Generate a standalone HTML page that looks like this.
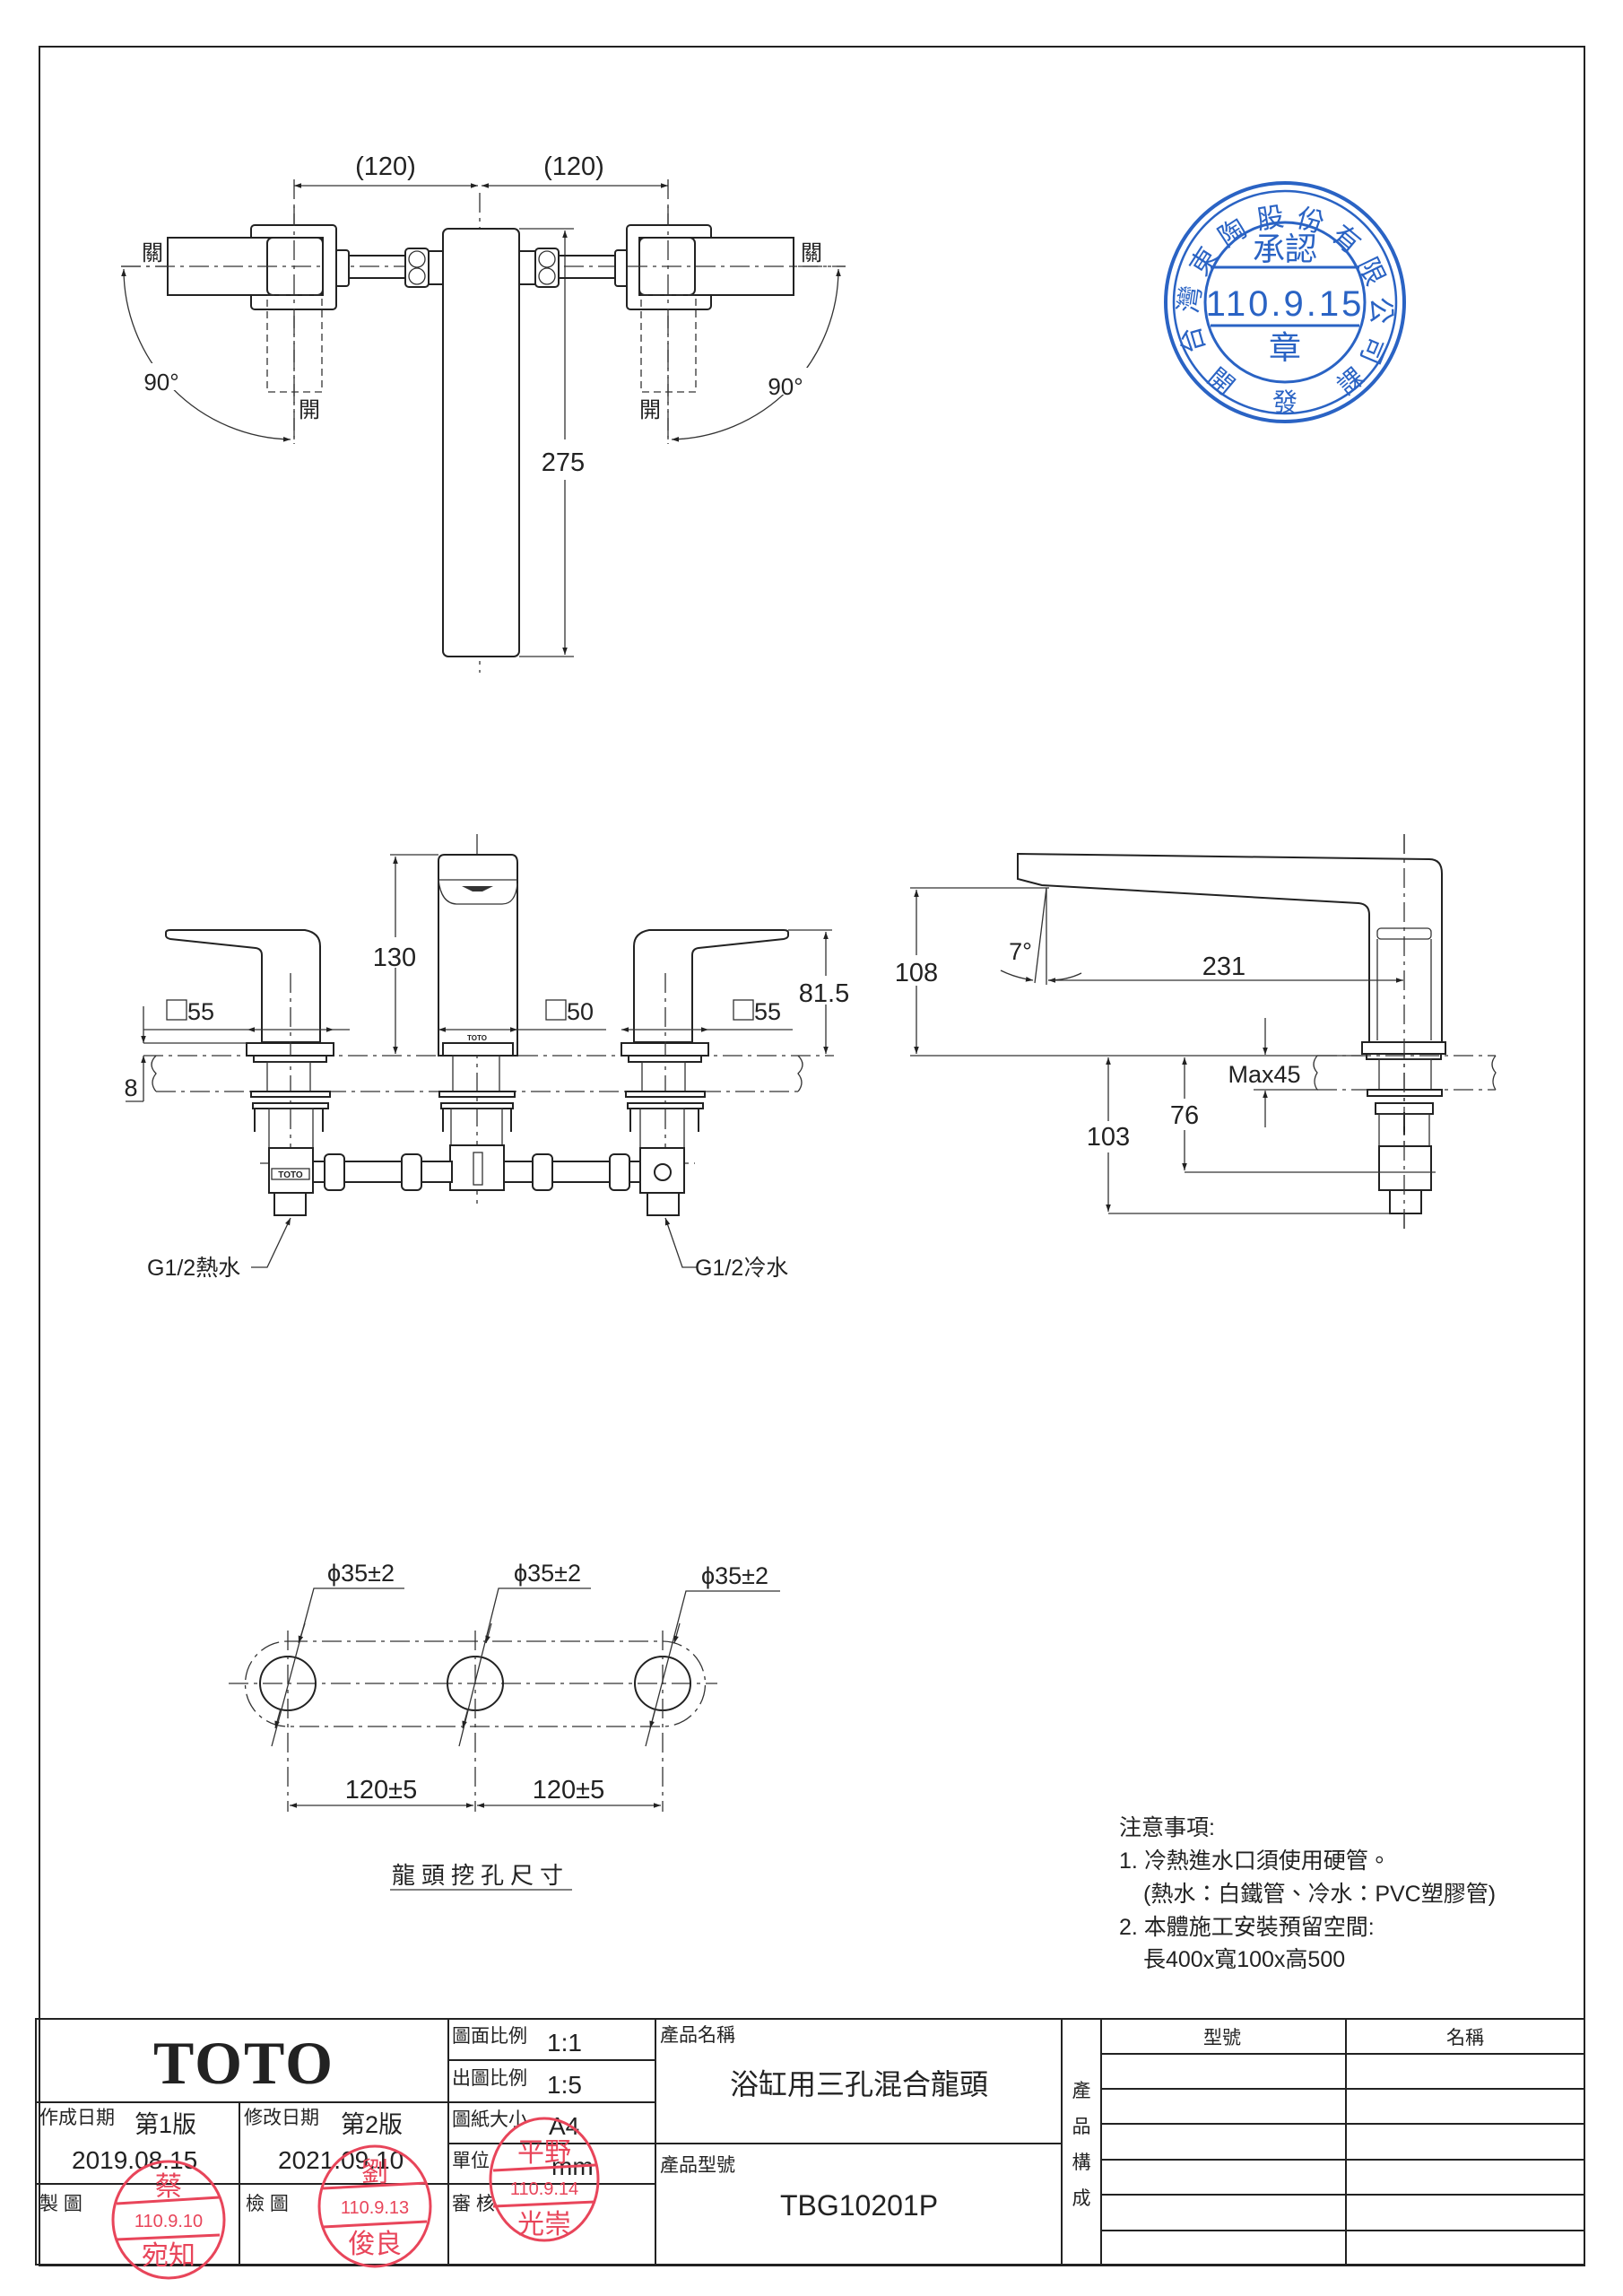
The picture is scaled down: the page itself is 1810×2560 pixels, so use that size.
<!DOCTYPE html>
<html><head><meta charset="utf-8"><style>
html,body{margin:0;padding:0;background:#fff}
svg{display:block}
text{font-family:"Liberation Sans","Noto Sans CJK TC",sans-serif;fill:#222}
.l{stroke:#222;stroke-width:2;fill:none}
.t{stroke:#333;stroke-width:1.3;fill:none}
.d{stroke:#333;stroke-width:1.3;fill:none;stroke-dasharray:22 6 4 6}
.dd{stroke:#333;stroke-width:1.3;fill:none;stroke-dasharray:8 5}
.w{fill:#fff;stroke:#222;stroke-width:2}
.dim{font-size:29px}
.b{stroke:#2a63c4;fill:none}
.r{stroke:#e8455a;fill:none}
</style></head><body>
<svg width="1810" height="2560" viewBox="0 0 1810 2560" xmlns="http://www.w3.org/2000/svg">
<defs>
<marker id="a" viewBox="0 0 10 10" refX="10" refY="5" markerWidth="22" markerHeight="8" markerUnits="userSpaceOnUse" orient="auto-start-reverse"><path d="M0,1.5 L10,5 L0,8.5 Z" fill="#222"/></marker>
</defs>
<!-- border -->
<rect x="44" y="52" width="1723" height="2474" class="l"/>

<!-- ===== TOP VIEW ===== -->
<line x1="135" y1="297" x2="943" y2="297" class="d"/>
<line x1="535" y1="215" x2="535" y2="750" class="d"/>
<line x1="328" y1="200" x2="328" y2="495" class="d"/>
<line x1="745" y1="200" x2="745" y2="495" class="d"/>
<line x1="328" y1="207" x2="533" y2="207" class="t" marker-start="url(#a)" marker-end="url(#a)"/>
<line x1="537" y1="207" x2="745" y2="207" class="t" marker-start="url(#a)" marker-end="url(#a)"/>
<text x="430" y="195" class="dim" text-anchor="middle">(120)</text>
<text x="640" y="195" class="dim" text-anchor="middle">(120)</text>
<!-- spout -->
<rect x="494" y="255" width="85" height="477" rx="6" class="w"/>
<line x1="579" y1="255" x2="640" y2="255" class="t"/>
<line x1="579" y1="732" x2="640" y2="732" class="t"/>
<line x1="630" y1="257" x2="630" y2="490" class="t" marker-start="url(#a)"/>
<line x1="630" y1="535" x2="630" y2="730" class="t" marker-end="url(#a)"/>
<text x="628" y="525" class="dim" text-anchor="middle">275</text>
<!-- pipes -->
<line x1="389" y1="285" x2="452" y2="285" class="l"/><line x1="389" y1="310" x2="452" y2="310" class="l"/>
<line x1="623" y1="285" x2="686" y2="285" class="l"/><line x1="623" y1="310" x2="686" y2="310" class="l"/>
<rect x="452" y="277" width="26" height="43" rx="4" class="w"/><rect x="478" y="280" width="16" height="37" class="w"/>
<rect x="597" y="277" width="26" height="43" rx="4" class="w"/><rect x="579" y="280" width="18" height="37" class="w"/>
<rect x="374" y="279" width="15" height="40" rx="3" class="w"/><rect x="686" y="279" width="15" height="40" rx="3" class="w"/>
<circle cx="465" cy="289" r="9" class="t"/><circle cx="465" cy="308" r="9" class="t"/>
<circle cx="610" cy="289" r="9" class="t"/><circle cx="610" cy="308" r="9" class="t"/>
<!-- left handle -->
<rect x="280" y="251" width="95" height="94" rx="4" class="w"/>
<rect x="187" y="265" width="173" height="64" class="w"/>
<rect x="298" y="265" width="62" height="64" rx="6" class="w"/>
<rect x="298" y="329" width="61" height="108" class="dd"/>
<line x1="135" y1="297" x2="360" y2="297" class="d"/>
<!-- right handle -->
<rect x="699" y="251" width="94" height="94" rx="4" class="w"/>
<rect x="713" y="265" width="172" height="64" class="w"/>
<rect x="713" y="265" width="62" height="64" rx="6" class="w"/>
<rect x="715" y="329" width="61" height="108" class="dd"/>
<line x1="700" y1="297" x2="943" y2="297" class="d"/>
<line x1="328" y1="230" x2="328" y2="495" class="d"/>
<line x1="745" y1="230" x2="745" y2="495" class="d"/>
<text x="170" y="290" font-size="24" text-anchor="middle">關</text>
<text x="905" y="290" font-size="24" text-anchor="middle">關</text>
<text x="345" y="465" font-size="24" text-anchor="middle">開</text>
<text x="725" y="465" font-size="24" text-anchor="middle">開</text>
<path d="M324,490 A190,190 0 0 1 138,300" class="t" marker-start="url(#a)" marker-end="url(#a)"/>
<path d="M749,490 A190,190 0 0 0 935,300" class="t" marker-start="url(#a)" marker-end="url(#a)"/>
<rect x="160" y="405" width="46" height="30" fill="#fff"/>
<rect x="862" y="410" width="46" height="30" fill="#fff"/>
<text x="180" y="435" font-size="26" text-anchor="middle">90°</text>
<text x="876" y="440" font-size="26" text-anchor="middle">90°</text>

<!-- ===== BLUE STAMP ===== -->
<g class="b">
<circle cx="1433" cy="337" r="133" stroke-width="4"/>
<circle cx="1433" cy="337" r="124" stroke-width="2.5"/>
<circle cx="1433" cy="337" r="89" stroke-width="3"/>
<line x1="1350" y1="298" x2="1516" y2="298" stroke-width="3"/>
<line x1="1350" y1="363" x2="1516" y2="363" stroke-width="3"/>
</g>
<g font-family="'Noto Serif CJK SC','Noto Sans CJK TC',serif">
<text x="1433" y="290" font-size="36" text-anchor="middle" style="fill:#2a63c4">承認</text>
<text x="1433" y="352" font-size="40" text-anchor="middle" style="fill:#2a63c4;font-family:'Liberation Sans Narrow','Liberation Sans',sans-serif" letter-spacing="3">110.9.15</text>
<text x="1433" y="400" font-size="36" text-anchor="middle" style="fill:#2a63c4">章</text>
<text x="1433" y="458" font-size="28" text-anchor="middle" style="fill:#2a63c4">發</text>
<text x="1362" y="435" font-size="28" text-anchor="middle" style="fill:#2a63c4" transform="rotate(40 1362 425)">開</text>
<text x="1506" y="435" font-size="28" text-anchor="middle" style="fill:#2a63c4" transform="rotate(-40 1506 425)">課</text>
<path id="arc" d="M1345,390 A97,97 0 1 1 1521,390" fill="none"/>
<text font-size="30" style="fill:#2a63c4"><textPath href="#arc" textLength="400" lengthAdjust="spacing">台灣東陶股份有限公司</textPath></text>
</g>

<!-- ===== FRONT VIEW ===== -->
<line x1="160" y1="1177" x2="930" y2="1177" class="d"/>
<line x1="174" y1="1217" x2="890" y2="1217" class="d"/>
<path d="M174,1177 q-10,10 0,20 q-8,10 0,20" class="t"/>
<path d="M890,1177 q10,10 0,20 q8,10 0,20" class="t"/>
<line x1="324" y1="1085" x2="324" y2="1345" class="d"/>
<line x1="532" y1="930" x2="532" y2="1345" class="d"/>
<line x1="742" y1="1085" x2="742" y2="1345" class="d"/>
<line x1="290" y1="1297" x2="775" y2="1297" class="d"/>
<!-- spout -->
<path d="M489,960 Q489,953 496,953 L570,953 Q577,953 577,962 L577,1177 L489,1177 Z" class="w"/>
<path d="M489,981 L577,981 M489,981 Q492,1008 510,1008 L560,1008 Q575,1008 577,985" class="t"/>
<path d="M515,988 L550,988 L538,994 L527,994 Z" fill="#333"/>
<text x="532" y="1160" font-size="8" text-anchor="middle" font-weight="bold">TOTO</text>
<rect x="494" y="1163" width="78" height="14" class="w"/>
<line x1="435" y1="953" x2="489" y2="953" class="t"/>
<line x1="441" y1="955" x2="441" y2="1175" class="t" marker-start="url(#a)" marker-end="url(#a)"/>
<rect x="422" y="1045" width="38" height="34" fill="#fff"/>
<text x="440" y="1077" class="dim" text-anchor="middle">130</text>
<!-- left handle -->
<path d="M185,1040 Q185,1037 190,1037 L340,1037 Q357,1040 357,1055 L357,1162 L292,1162 L292,1065 Q292,1058 285,1057 L190,1047 Q185,1046 185,1043 Z" class="w"/>
<rect x="275" y="1163" width="97" height="14" class="w"/>
<rect x="283" y="1177" width="81" height="7" class="w"/>
<!-- right handle -->
<path d="M879,1040 Q879,1037 874,1037 L724,1037 Q707,1040 707,1055 L707,1162 L772,1162 L772,1065 Q772,1058 779,1057 L874,1047 Q879,1046 879,1043 Z" class="w"/>
<rect x="693" y="1163" width="97" height="14" class="w"/>
<rect x="701" y="1177" width="81" height="7" class="w"/>
<line x1="324" y1="1085" x2="324" y2="1177" class="d"/>
<line x1="742" y1="1085" x2="742" y2="1177" class="d"/>
<!-- underside parts -->
<g>
<rect x="298" y="1184" width="48" height="33" class="t"/>
<rect x="505" y="1177" width="52" height="40" class="t"/>
<rect x="716" y="1184" width="48" height="33" class="t"/>
<rect x="280" y="1217" width="88" height="6" class="w"/><rect x="490" y="1217" width="84" height="6" class="w"/><rect x="698" y="1217" width="88" height="6" class="w"/>
<rect x="282" y="1230" width="84" height="6" class="w"/><rect x="492" y="1230" width="80" height="6" class="w"/><rect x="700" y="1230" width="84" height="6" class="w"/>
<path d="M284,1236v26M360,1236v26M494,1236v26M570,1236v26M703,1236v26M779,1236v26" class="l" stroke-width="4"/>
<rect x="300" y="1236" width="49" height="44" class="t"/>
<rect x="503" y="1236" width="57" height="41" class="t"/>
<rect x="714" y="1236" width="49" height="44" class="t"/>
<rect x="300" y="1280" width="49" height="50" class="w"/>
<rect x="714" y="1280" width="49" height="50" class="w"/>
<rect x="502" y="1277" width="60" height="50" class="w"/>
<rect x="349" y="1295" width="155" height="23" class="w"/>
<rect x="562" y="1295" width="152" height="23" class="w"/>
<rect x="362" y="1287" width="22" height="40" rx="5" class="w"/>
<rect x="448" y="1287" width="22" height="40" rx="5" class="w"/>
<rect x="594" y="1287" width="22" height="40" rx="5" class="w"/>
<rect x="680" y="1287" width="22" height="40" rx="5" class="w"/>
<rect x="306" y="1330" width="35" height="25" class="w"/>
<rect x="722" y="1330" width="35" height="25" class="w"/>
<rect x="303" y="1303" width="42" height="12" class="t"/>
<text x="324" y="1313" font-size="10" text-anchor="middle" font-weight="bold">TOTO</text>
<circle cx="739" cy="1307" r="9" class="l"/>
<rect x="528" y="1285" width="10" height="36" class="t"/>
</g>
<!-- widths -->
<line x1="160" y1="1148" x2="276" y2="1148" class="t"/>
<line x1="276" y1="1148" x2="372" y2="1148" class="t" marker-start="url(#a)" marker-end="url(#a)"/>
<line x1="372" y1="1148" x2="390" y2="1148" class="t"/>
<line x1="489" y1="1148" x2="577" y2="1148" class="t" marker-start="url(#a)" marker-end="url(#a)"/>
<line x1="577" y1="1148" x2="676" y2="1148" class="t"/>
<line x1="693" y1="1148" x2="790" y2="1148" class="t" marker-start="url(#a)" marker-end="url(#a)"/>
<line x1="790" y1="1148" x2="884" y2="1148" class="t"/>
<rect x="186" y="1115" width="22" height="22" class="t"/><text x="209" y="1137" font-size="27">55</text>
<rect x="609" y="1115" width="22" height="22" class="t"/><text x="632" y="1137" font-size="27">50</text>
<rect x="818" y="1115" width="22" height="22" class="t"/><text x="841" y="1137" font-size="27">55</text>
<!-- 8 -->
<line x1="160" y1="1163" x2="275" y2="1163" class="t"/>
<line x1="160" y1="1122" x2="160" y2="1163" class="t" marker-end="url(#a)"/>
<line x1="160" y1="1228" x2="160" y2="1177" class="t" marker-end="url(#a)"/>
<line x1="140" y1="1228" x2="160" y2="1228" class="t"/>
<text x="146" y="1222" font-size="27" text-anchor="middle">8</text>
<!-- 81.5 -->
<line x1="879" y1="1037" x2="928" y2="1037" class="t"/>
<line x1="921" y1="1039" x2="921" y2="1175" class="t" marker-start="url(#a)" marker-end="url(#a)"/>
<rect x="898" y="1088" width="46" height="32" fill="#fff"/>
<text x="919" y="1117" class="dim" text-anchor="middle">81.5</text>
<!-- G1/2 -->
<polyline points="280,1413 298,1413 324,1358" class="t" marker-end="url(#a)"/>
<text x="164" y="1422" font-size="25">G1/2熱水</text>
<polyline points="777,1413 761,1413 742,1358" class="t" marker-end="url(#a)"/>
<text x="775" y="1422" font-size="25">G1/2冷水</text>

<!-- ===== SIDE VIEW ===== -->
<line x1="1566" y1="930" x2="1566" y2="1370" class="d"/>
<path d="M1135,952 L1594,958 Q1608,958 1608,974 L1608,1162 L1527,1162 L1527,1020 Q1527,1008 1515,1007 L1162,987 L1135,980 Z" class="w"/>
<rect x="1536" y="1035" width="60" height="12" rx="4" class="t"/>
<line x1="1536" y1="1047" x2="1536" y2="1160" class="t"/><line x1="1596" y1="1047" x2="1596" y2="1160" class="t"/>
<rect x="1519" y="1162" width="93" height="13" class="w"/>
<rect x="1524" y="1175" width="83" height="6" class="w"/>
<line x1="1469" y1="1177" x2="1668" y2="1177" class="d"/>
<line x1="1469" y1="1215" x2="1668" y2="1215" class="d"/>
<path d="M1469,1177 q-8,10 0,19 q-6,10 0,19" class="t"/>
<path d="M1668,1177 q-8,10 0,19 q-6,10 0,19" class="t"/>
<rect x="1538" y="1181" width="58" height="34" class="t"/>
<rect x="1525" y="1215" width="83" height="7" class="w"/>
<rect x="1534" y="1230" width="64" height="12" class="w"/>
<rect x="1538" y="1242" width="56" height="40" class="t"/>
<rect x="1538" y="1278" width="58" height="49" class="w"/>
<rect x="1550" y="1327" width="35" height="26" class="w"/>
<line x1="1566" y1="1240" x2="1566" y2="1265" class="l" stroke-width="4"/>
<line x1="1566" y1="930" x2="1566" y2="1370" class="d"/>
<!-- 108 -->
<line x1="1015" y1="990" x2="1170" y2="990" class="t"/>
<line x1="1015" y1="1177" x2="1520" y2="1177" class="t"/>
<line x1="1022" y1="992" x2="1022" y2="1175" class="t" marker-start="url(#a)" marker-end="url(#a)"/>
<rect x="1000" y="1065" width="44" height="34" fill="#fff"/>
<text x="1022" y="1094" class="dim" text-anchor="middle">108</text>
<!-- 7 deg -->
<line x1="1167" y1="990" x2="1167" y2="1098" class="t"/>
<line x1="1167" y1="990" x2="1154" y2="1096" class="t"/>
<path d="M1116,1082 Q1132,1090 1152,1093" class="t" marker-end="url(#a)"/>
<path d="M1206,1085 Q1190,1093 1169,1093" class="t" marker-end="url(#a)"/>
<text x="1138" y="1070" font-size="27" text-anchor="middle">7°</text>
<line x1="1169" y1="1093" x2="1565" y2="1093" class="t" marker-end="url(#a)"/>
<text x="1365" y="1087" class="dim" text-anchor="middle">231</text>
<!-- Max45 -->
<line x1="1411" y1="1135" x2="1411" y2="1176" class="t" marker-end="url(#a)"/>
<line x1="1411" y1="1257" x2="1411" y2="1216" class="t" marker-end="url(#a)"/>
<line x1="1398" y1="1215" x2="1470" y2="1215" class="t"/>
<text x="1410" y="1207" font-size="27" text-anchor="middle">Max45</text>
<!-- 76 -->
<line x1="1321" y1="1307" x2="1601" y2="1307" class="t"/>
<line x1="1321" y1="1179" x2="1321" y2="1225" class="t" marker-start="url(#a)"/>
<line x1="1321" y1="1260" x2="1321" y2="1305" class="t" marker-end="url(#a)"/>
<text x="1321" y="1253" class="dim" text-anchor="middle">76</text>
<!-- 103 -->
<line x1="1236" y1="1353" x2="1550" y2="1353" class="t"/>
<line x1="1236" y1="1179" x2="1236" y2="1250" class="t" marker-start="url(#a)"/>
<line x1="1236" y1="1285" x2="1236" y2="1351" class="t" marker-end="url(#a)"/>
<text x="1236" y="1277" class="dim" text-anchor="middle">103</text>

<!-- ===== HOLE LAYOUT ===== -->
<path d="M321,1830 L739,1830 A47.5,47.5 0 0 1 739,1925 L321,1925 A47.5,47.5 0 0 1 321,1830 Z" class="d"/>
<line x1="255" y1="1877" x2="800" y2="1877" class="d"/>
<ellipse cx="321" cy="1877" rx="31" ry="30" class="l"/>
<ellipse cx="530" cy="1877" rx="31" ry="30" class="l"/>
<ellipse cx="739" cy="1877" rx="31" ry="30" class="l"/>
<line x1="321" y1="1818" x2="321" y2="2020" class="d"/>
<line x1="530" y1="1818" x2="530" y2="2020" class="d"/>
<line x1="739" y1="1818" x2="739" y2="2020" class="d"/>
<line x1="323" y1="2013" x2="528" y2="2013" class="t" marker-start="url(#a)" marker-end="url(#a)"/>
<line x1="532" y1="2013" x2="737" y2="2013" class="t" marker-start="url(#a)" marker-end="url(#a)"/>
<text x="425" y="2005" class="dim" text-anchor="middle">120±5</text>
<text x="634" y="2005" class="dim" text-anchor="middle">120±5</text>
<g>
<polyline points="451,1771 350,1771 303,1947" class="t"/>
<line x1="340" y1="1810" x2="333" y2="1832" class="t" marker-end="url(#a)"/>
<line x1="313" y1="1905" x2="307" y2="1927" class="t" marker-end="url(#a)"/>
<polyline points="659,1771 556,1771 512,1947" class="t"/>
<line x1="548" y1="1810" x2="542" y2="1832" class="t" marker-end="url(#a)"/>
<line x1="522" y1="1905" x2="516" y2="1927" class="t" marker-end="url(#a)"/>
<polyline points="870,1774 765,1774 720,1947" class="t"/>
<line x1="758" y1="1810" x2="752" y2="1832" class="t" marker-end="url(#a)"/>
<line x1="731" y1="1905" x2="725" y2="1927" class="t" marker-end="url(#a)"/>
</g>
<text x="365" y="1763" font-size="27">ϕ35±2</text>
<text x="573" y="1763" font-size="27">ϕ35±2</text>
<text x="782" y="1766" font-size="27">ϕ35±2</text>
<text x="536" y="2100" font-size="26" text-anchor="middle" letter-spacing="7">龍頭挖孔尺寸</text>
<line x1="435" y1="2107" x2="638" y2="2107" class="t"/>

<!-- ===== NOTES ===== -->
<g font-size="25">
<text x="1248" y="2046">注意事項:</text>
<text x="1248" y="2083">1. 冷熱進水口須使用硬管。</text>
<text x="1275" y="2120">(熱水：白鐵管、冷水：PVC塑膠管)</text>
<text x="1248" y="2157">2. 本體施工安裝預留空間:</text>
<text x="1275" y="2193">長400x寬100x高500</text>
</g>

<!-- ===== TITLE BLOCK ===== -->
<g class="l" stroke-width="2.5">
<rect x="40" y="2251" width="1727" height="274"/>
<line x1="500" y1="2251" x2="500" y2="2525"/>
<line x1="731" y1="2251" x2="731" y2="2525"/>
<line x1="1184" y1="2251" x2="1184" y2="2525"/>
<line x1="1228" y1="2251" x2="1228" y2="2525"/>
<line x1="1501" y1="2251" x2="1501" y2="2525"/>
<line x1="40" y1="2344" x2="731" y2="2344"/>
<line x1="40" y1="2435" x2="731" y2="2435"/>
<line x1="267" y1="2344" x2="267" y2="2525"/>
<line x1="500" y1="2297" x2="731" y2="2297"/>
<line x1="500" y1="2390" x2="731" y2="2390"/>
<line x1="731" y1="2390" x2="1184" y2="2390"/>
<line x1="1228" y1="2290" x2="1767" y2="2290"/>
<line x1="1228" y1="2329" x2="1767" y2="2329"/>
<line x1="1228" y1="2368" x2="1767" y2="2368"/>
<line x1="1228" y1="2408" x2="1767" y2="2408"/>
<line x1="1228" y1="2447" x2="1767" y2="2447"/>
<line x1="1228" y1="2487" x2="1767" y2="2487"/>
</g>
<text x="272" y="2323" font-size="68" font-weight="bold" text-anchor="middle" style="font-family:'Liberation Serif',serif" letter-spacing="2">TOTO</text>
<g font-size="21">
<text x="504" y="2277">圖面比例</text><text x="610" y="2287" font-size="28">1:1</text>
<text x="504" y="2324">出圖比例</text><text x="610" y="2334" font-size="28">1:5</text>
<text x="504" y="2370">圖紙大小</text><text x="612" y="2380" font-size="28">A4</text>
<text x="504" y="2416">單位</text><text x="615" y="2425" font-size="28">mm</text>
<text x="504" y="2464">審 核</text>
<text x="44" y="2368">作成日期</text><text x="150" y="2378" font-size="27">第1版</text>
<text x="80" y="2418" font-size="28">2019.08.15</text>
<text x="272" y="2368">修改日期</text><text x="380" y="2378" font-size="27">第2版</text>
<text x="310" y="2418" font-size="28">2021.09.10</text>
<text x="44" y="2464">製 圖</text>
<text x="274" y="2464">檢 圖</text>
<text x="736" y="2276">產品名稱</text>
<text x="736" y="2421">產品型號</text>
<text x="1363" y="2279" text-anchor="middle">型號</text>
<text x="1634" y="2279" text-anchor="middle">名稱</text>
<text x="1206" y="2338" text-anchor="middle">產</text>
<text x="1206" y="2378" text-anchor="middle">品</text>
<text x="1206" y="2418" text-anchor="middle">構</text>
<text x="1206" y="2458" text-anchor="middle">成</text>
</g>
<text x="958" y="2335" font-size="32" text-anchor="middle">浴缸用三孔混合龍頭</text>
<text x="958" y="2470" font-size="32" text-anchor="middle">TBG10201P</text>

<!-- red stamps -->
<g class="r" stroke-width="3">
<ellipse cx="188" cy="2475" rx="62" ry="65"/>
<line x1="130" y1="2457" x2="245" y2="2450"/><line x1="130" y1="2497" x2="245" y2="2492"/>
<ellipse cx="418" cy="2460" rx="62" ry="67"/>
<line x1="360" y1="2440" x2="476" y2="2434"/><line x1="360" y1="2483" x2="476" y2="2477"/>
<ellipse cx="607" cy="2430" rx="60" ry="68"/>
<line x1="550" y1="2420" x2="664" y2="2414"/><line x1="550" y1="2460" x2="664" y2="2455"/>
</g>
<g font-size="30">
<text x="188" y="2448" text-anchor="middle" style="fill:#e8455a">蔡</text>
<text x="188" y="2483" font-size="20" text-anchor="middle" style="fill:#e8455a">110.9.10</text>
<text x="188" y="2525" text-anchor="middle" style="fill:#e8455a">宛知</text>
<text x="418" y="2432" text-anchor="middle" style="fill:#e8455a">劉</text>
<text x="418" y="2468" font-size="20" text-anchor="middle" style="fill:#e8455a">110.9.13</text>
<text x="418" y="2512" text-anchor="middle" style="fill:#e8455a">俊良</text>
<text x="607" y="2410" text-anchor="middle" style="fill:#e8455a">平野</text>
<text x="607" y="2447" font-size="20" text-anchor="middle" style="fill:#e8455a">110.9.14</text>
<text x="607" y="2490" text-anchor="middle" style="fill:#e8455a">光崇</text>
</g>
</svg>
</body></html>
